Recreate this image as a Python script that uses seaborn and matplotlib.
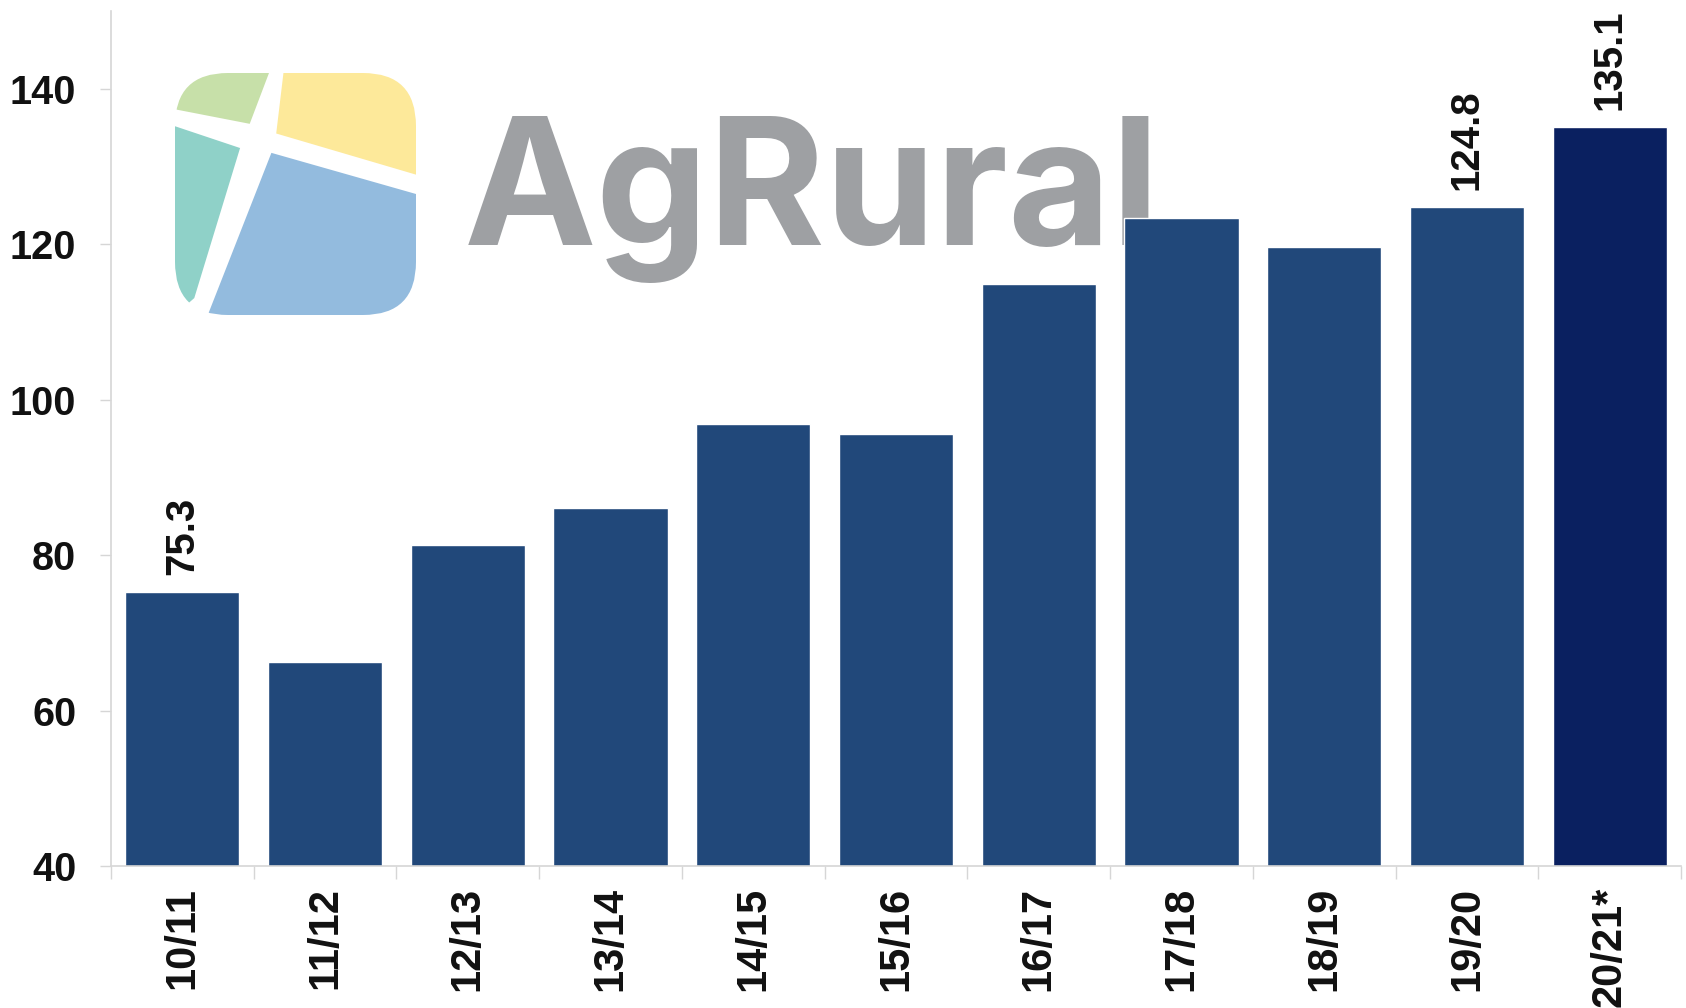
import numpy as np
import pandas as pd
import seaborn as sns
from matplotlib import pyplot as plt
from matplotlib.patches import Polygon, FancyBboxPatch

sns.set_style("white")
plt.rcParams["font.family"] = ["Liberation Sans", "DejaVu Sans"]

seasons = ["10/11", "11/12", "12/13", "13/14", "14/15", "15/16",
           "16/17", "17/18", "18/19", "19/20", "20/21*"]
production = [75.3, 66.2, 81.3, 86.0, 96.9, 95.6, 114.9, 123.4, 119.7, 124.8, 135.1]
labelled = ["10/11", "19/20", "20/21*"]
bar_colors = ["#21487A"] * 10 + ["#0A2060"]

df = pd.DataFrame({"season": seasons, "value": production})

fig = plt.figure(figsize=(16.86, 10.08), dpi=100)
ax = fig.add_axes([111 / 1686, 142 / 1008, 1570 / 1686, 855 / 1008])

sns.barplot(data=df, x="season", y="value", hue="season", palette=bar_colors,
            legend=False, width=0.8, saturation=1, ax=ax)

ax.set_ylim(40, 150)
ax.set_xlim(-0.5, len(seasons) - 0.5)
ax.set_yticks(range(40, 141, 20))
ax.set_xlabel("")
ax.set_ylabel("")

for side in ["top", "right"]:
    ax.spines[side].set_visible(False)
for side in ["left", "bottom"]:
    ax.spines[side].set_color("#D6D6D6")
    ax.spines[side].set_linewidth(1.2)

ax.tick_params(axis="y", left=True, length=8, width=1, color="#D6D6D6", pad=17,
               labelsize=28.5)
ax.tick_params(axis="x", which="major", bottom=False, length=0, pad=15,
               labelsize=30, labelrotation=90)
ax.set_xticks(np.arange(-0.5, len(seasons), 1), minor=True)
ax.tick_params(axis="x", which="minor", bottom=True, length=9, width=1,
               color="#D6D6D6")
for lab in ax.get_xticklabels() + ax.get_yticklabels():
    lab.set_fontweight("bold")
    lab.set_color("#111111")

# value labels on selected bars
for i, (s, v) in enumerate(zip(seasons, production)):
    if s in labelled:
        ax.annotate(f"{v:.1f}", (i, v), xytext=(0, 12), textcoords="offset points",
                    rotation=90, ha="center", va="bottom", fontsize=29,
                    fontweight="bold", color="#111111")

# AgRural watermark
ax.text(464 / 1686, 1 - 245 / 1008, "AgRural", transform=fig.transFigure,
        fontsize=128, fontweight="bold", family="Inter", color="#9EA0A3",
        ha="left", va="baseline", zorder=0.5)

logo = fig.add_axes([175 / 1686, 1 - 315 / 1008, 241 / 1686, 242 / 1008])
logo.set_xlim(0, 1)
logo.set_ylim(0, 1)
logo.axis("off")
clip = FancyBboxPatch((0, 0), 1, 1, boxstyle="round,pad=0,rounding_size=0.22",
                      transform=logo.transData, facecolor="none", edgecolor="none")
logo.add_patch(clip)
pieces = [
    ("#C7E0A9", [(0.0, 0.85), (0.0, 1.0), (0.39, 1.0), (0.31, 0.79)]),
    ("#FDE99A", [(0.45, 1.0), (1.0, 1.0), (1.0, 0.58), (0.42, 0.75)]),
    ("#8FD1C8", [(0.0, 0.78), (0.27, 0.69), (0.08, 0.07), (0.0, 0.0)]),
    ("#93BBDE", [(0.40, 0.67), (1.0, 0.5), (1.0, 0.0), (0.14, 0.0), (0.14, 0.01)]),
]
for color, pts in pieces:
    p = Polygon(pts, closed=True, facecolor=color, edgecolor="none")
    logo.add_patch(p)
    p.set_clip_path(clip)

fig.savefig("out.png", dpi=100)
